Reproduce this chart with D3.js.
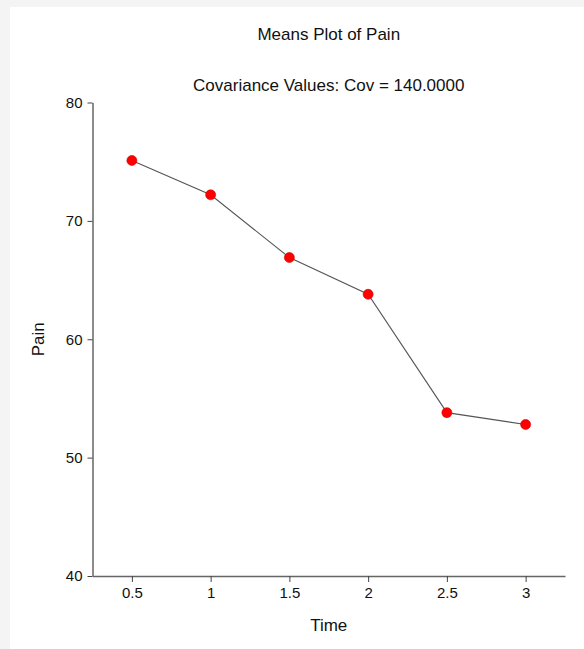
<!DOCTYPE html>
<title>Means Plot of Pain</title>
<body>
<script src="https://d3js.org/d3.v7.min.js" charset="utf-8"></script>
<style>
  html, body {
    width: 100%;
    height: 100%;
    margin: 0;
    overflow: hidden;
    background: #f4f4f4;
  }
  text { font-family: "Liberation Sans", Arial, sans-serif; fill: #111; }
</style>
<script>
  // values
  var times = [0.5, 1, 1.5, 2, 2.5, 3],
    painMeans = [75.1, 72.2, 66.9, 63.8, 53.8, 52.8],
    xTicks = [0.5, 1, 1.5, 2, 2.5, 3],
    yTicks = [40, 50, 60, 70, 80];

  var width = 584, height = 649,
    mLeft = 92.5, mRight = 565, mTop = 102.5, mBottom = 576;

  var svg = d3.select("body").append("svg")
    .attr("width", width)
    .attr("height", height);

  // white panel, light grey margin on top and left
  svg.append("rect")
    .attr("x", 10).attr("y", 7)
    .attr("width", width - 10).attr("height", height - 7)
    .attr("fill", "#fff");

  var x = d3.scaleLinear().domain([0.25, 3.25]).range([mLeft, mRight]),
    y = d3.scaleLinear().domain([40, 80]).range([mBottom, mTop]);

  var xAxis = svg.append("g")
    .attr("transform", "translate(0," + mBottom + ")")
    .call(d3.axisBottom(x).tickValues(xTicks).tickSize(6).tickPadding(5)
      .tickFormat(d3.format("")).tickSizeOuter(0));

  var yAxis = svg.append("g")
    .attr("transform", "translate(" + mLeft + ",0)")
    .call(d3.axisLeft(y).tickValues(yTicks).tickSize(5).tickPadding(5).tickSizeOuter(0));

  [xAxis, yAxis].forEach(function(g) {
    g.select(".domain").attr("stroke", "#666").attr("stroke-width", 1.5);
    g.selectAll(".tick line").attr("stroke", "#444");
    g.selectAll(".tick text")
      .attr("fill", "#111")
      .style("font-family", "Liberation Sans, Arial, sans-serif")
      .style("font-size", "15px");
  });

  var pts = times.map(function(t, i) { return [t, painMeans[i]]; });

  svg.append("path")
    .datum(pts)
    .attr("fill", "none")
    .attr("stroke", "#555")
    .attr("stroke-width", 1.1)
    .attr("d", d3.line().x(function(d) { return x(d[0]); }).y(function(d) { return y(d[1]); }));

  svg.selectAll("circle.pt")
    .data(pts)
    .enter().append("circle")
    .attr("class", "pt")
    .attr("cx", function(d) { return x(d[0]); })
    .attr("cy", function(d) { return y(d[1]); })
    .attr("r", 5)
    .attr("fill", "#f00")
    .attr("stroke", "#c00")
    .attr("stroke-width", 0.6);

  var cx = (mLeft + mRight) / 2;

  svg.append("text")
    .attr("x", cx).attr("y", 40)
    .attr("text-anchor", "middle")
    .style("font-size", "17px")
    .text("Means Plot of Pain");

  svg.append("text")
    .attr("x", cx).attr("y", 91)
    .attr("text-anchor", "middle")
    .style("font-size", "17px")
    .text("Covariance Values: Cov = 140.0000");

  svg.append("text")
    .attr("x", cx).attr("y", 631)
    .attr("text-anchor", "middle")
    .style("font-size", "17px")
    .text("Time");

  svg.append("text")
    .attr("transform", "translate(44," + (mTop + mBottom) / 2 + ") rotate(-90)")
    .attr("text-anchor", "middle")
    .style("font-size", "17px")
    .text("Pain");
</script>
